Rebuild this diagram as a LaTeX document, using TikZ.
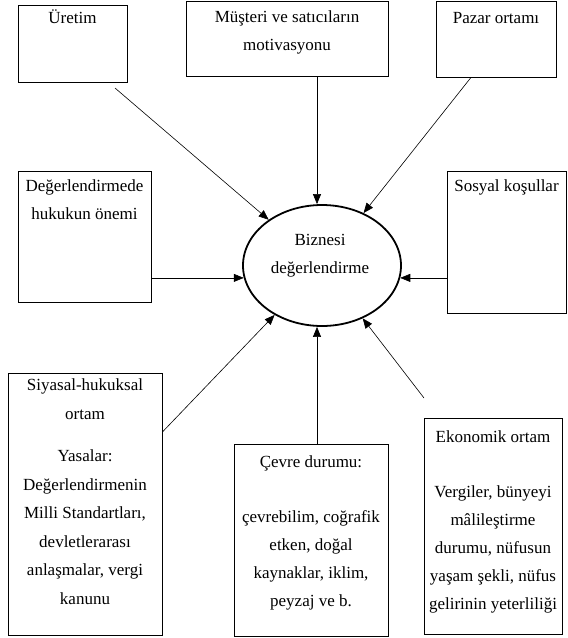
\documentclass[tikz,border=0pt]{standalone}
\usepackage{fontspec}
\setmainfont{Liberation Serif}
\usetikzlibrary{shapes.geometric,arrows.meta}
\begin{document}
\begin{tikzpicture}[x=1pt,y=-1pt,
  box/.style={draw, line width=0.8pt, rectangle, inner sep=0pt},
  lbl/.style={anchor=north, yshift=19.6pt, align=center, inner sep=0pt, font=\fontsize{17}{28}\selectfont},
  arr/.style={line width=0.6pt, -{Triangle[length=10pt,width=8pt]}},
  ]
\useasboundingbox (0,0) rectangle (568,638);
\fill[white] (0,0) rectangle (568,638);

% boxes
\node[box, minimum width=109pt, minimum height=77pt]  (u) at (72.5,43.5) {};
\node[box, minimum width=202pt, minimum height=75pt]  (m) at (287,38.5) {};
\node[box, minimum width=120pt, minimum height=76pt]  (pz) at (496,39) {};
\node[box, minimum width=133pt, minimum height=131pt] (d) at (84.5,236.5) {};
\node[box, minimum width=119pt, minimum height=142pt] (s) at (506.5,242) {};
\node[box, minimum width=154pt, minimum height=262pt] (p) at (85,504) {};
\node[box, minimum width=154pt, minimum height=192pt] (c) at (311,540) {};
\node[box, minimum width=138pt, minimum height=216pt] (e) at (493,526) {};

% ellipse
\node[ellipse, draw, line width=1.8pt, minimum width=158pt, minimum height=121pt, inner sep=0pt] (biz) at (322,265.5) {};

% labels
\node[lbl] (ut) at (72.5,23) {\strut Üretim};
\node[lbl] (mt) at (287,22) {\strut Müşteri ve satıcıların\\motivasyonu};
\node[lbl] (pt) at (496,23) {\strut Pazar ortamı};
\node[lbl] (dt) at (84.5,191) {\strut Değerlendirmede\\hukukun önemi};
\node[lbl] (st) at (506.5,191) {\strut Sosyal koşullar};
\node[lbl] (bt) at (320,245) {\strut Biznesi\\değerlendirme};
\node[lbl, font=\fontsize{17}{28.5}\selectfont] (ptx) at (85,390) {\strut Siyasal-hukuksal\\ortam\\[14pt]Yasalar:\\Değerlendirmenin\\Milli Standartları,\\devletlerarası\\anlaşmalar, vergi\\kanunu};
\node[lbl] (ct) at (311,467) {\strut Çevre durumu:\\[27pt]çevrebilim, coğrafik\\etken, doğal\\kaynaklar, iklim,\\peyzaj ve b.};
\node[lbl] (et) at (493,442) {\strut Ekonomik ortam\\[27pt]Vergiler, bünyeyi\\mâlileştirme\\durumu, nüfusun\\yaşam şekli, nüfus\\gelirinin yeterliliği};

% connectors
\coordinate (u1) at (115,88);
\coordinate (m1) at (317,76);
\coordinate (e1) at (424,398);
\draw[arr] (u1) -- (biz);
\draw[arr] (m1) -- (m1 |- biz.north);
\draw[arr] (pz.south -| 471,0) -- (biz);
\draw[arr] (d.east |- biz.189) -- (biz.189);
\draw[arr] (s.west |- biz.351) -- (biz.351);
\draw[arr] (p.east |- 0,432) -- (biz);
\draw[arr] (c.north -| m1) -- (m1 |- biz.south);
\draw[arr] (e1) -- (biz);
\end{tikzpicture}
\end{document}
